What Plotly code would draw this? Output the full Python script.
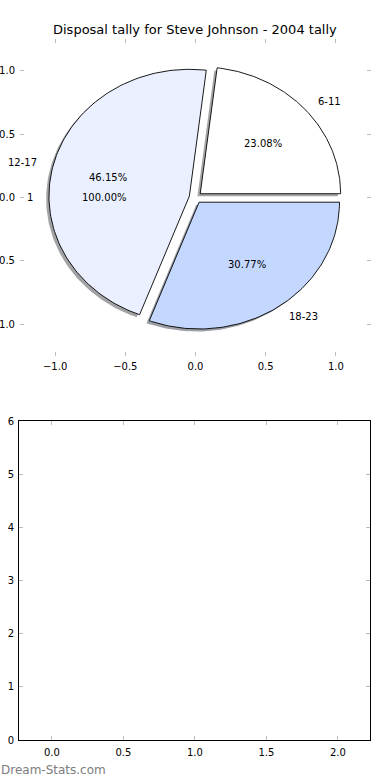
import numpy as np
import plotly.graph_objects as go

# ---- data ----
title_text = "Disposal tally for Steve Johnson - 2004 tally"
pie_labels = ["6-11", "12-17", "18-23"]
pie_values = [3, 6, 4]
pie_colors = ["#FFFFFF", "#EAF0FF", "#C4D8FF"]
single_labels = ["1"]
single_values = [1]
pie_ticks = [-1.0, -0.5, 0.0, 0.5, 1.0]
bar_xticks = [0.0, 0.5, 1.0, 1.5, 2.0]
bar_yticks = [0, 1, 2, 3, 4, 5, 6]

EXPLODE = 0.045
W, H = 390, 780
FONT = "DejaVu Sans"


def px_x(p):
    return p / W


def px_y(p):
    return (H - p) / H


fig = go.Figure()


def wedge_xy(t1, t2, cx, cy, r=1.0):
    th = np.radians(np.linspace(t1, t2, 120))
    xs = np.concatenate([[cx], cx + r * np.cos(th), [cx]])
    ys = np.concatenate([[cy], cy + r * np.sin(th), [cy]])
    return xs, ys


def rgba_shadow(hexc):
    h = hexc.lstrip("#")
    r, g, b = (int(h[i:i + 2], 16) for i in (0, 2, 4))
    return "rgba(%d,%d,%d,0.5)" % (int(r * 0.3), int(g * 0.3), int(b * 0.3))


total = float(sum(pie_values))
angles = np.concatenate([[0.0], np.cumsum(pie_values) / total * 360.0])
wedges = []
for i, lab in enumerate(pie_labels):
    t1, t2 = angles[i], angles[i + 1]
    tm = np.radians((t1 + t2) / 2)
    cx, cy = EXPLODE * np.cos(tm), EXPLODE * np.sin(tm)
    wedges.append((t1, t2, tm, cx, cy))

# shadows
for i, (t1, t2, tm, cx, cy) in enumerate(wedges):
    xs, ys = wedge_xy(t1, t2, cx - 0.02, cy - 0.02)
    fig.add_trace(go.Scatter(x=xs, y=ys, mode="lines", fill="toself",
                             fillcolor=rgba_shadow(pie_colors[i]),
                             line=dict(width=0, color="rgba(0,0,0,0)"),
                             hoverinfo="skip", showlegend=False,
                             xaxis="x", yaxis="y"))
# wedges
for i, (t1, t2, tm, cx, cy) in enumerate(wedges):
    xs, ys = wedge_xy(t1, t2, cx, cy)
    fig.add_trace(go.Scatter(x=xs, y=ys, mode="lines", fill="toself",
                             fillcolor=pie_colors[i],
                             line=dict(width=0.9, color="black"),
                             hoverinfo="skip", showlegend=False,
                             xaxis="x", yaxis="y"))

annotations = []
txt_font = dict(family=FONT, size=10, color="black")
for i, (t1, t2, tm, cx, cy) in enumerate(wedges):
    lx, ly = cx + 1.1 * np.cos(tm), cy + 1.1 * np.sin(tm)
    annotations.append(dict(x=lx, y=ly, xref="x", yref="y", text=pie_labels[i],
                            showarrow=False, font=txt_font,
                            xanchor="left" if lx > 0 else "right", yanchor="middle"))
    px, py = cx + 0.6 * np.cos(tm), cy + 0.6 * np.sin(tm)
    annotations.append(dict(x=px, y=py, xref="x", yref="y",
                            text="%.2f%%" % (pie_values[i] / total * 100),
                            showarrow=False, font=txt_font,
                            xanchor="center", yanchor="middle"))

# single-slice pie labels (slice itself hidden under the others)
s_total = float(sum(single_values))
s_ang = 0.0
for lab, v in zip(single_labels, single_values):
    frac = v / s_total
    tm = np.radians(s_ang + frac * 180.0)
    s_ang += frac * 360.0
    cx, cy = EXPLODE * np.cos(tm), EXPLODE * np.sin(tm)
    lx, ly = cx + 1.1 * np.cos(tm), cy + 1.1 * np.sin(tm)
    annotations.append(dict(x=lx, y=ly, xref="x", yref="y", text=lab,
                            showarrow=False, font=txt_font,
                            xanchor="left" if lx > 0 else "right", yanchor="middle"))
    px, py = cx + 0.6 * np.cos(tm), cy + 0.6 * np.sin(tm)
    annotations.append(dict(x=px, y=py, xref="x", yref="y",
                            text="%.2f%%" % (frac * 100), showarrow=False,
                            font=txt_font, xanchor="center", yanchor="middle"))

# empty bottom chart (invisible point to activate axes)
fig.add_trace(go.Scatter(x=[None], y=[None], mode="markers", showlegend=False,
                         xaxis="x2", yaxis="y2"))

annotations.append(dict(x=px_x(195), y=px_y(30), xref="paper", yref="paper",
                        text=title_text, showarrow=False,
                        font=dict(family=FONT, size=13, color="black"),
                        xanchor="center", yanchor="middle"))
annotations.append(dict(x=px_x(-1), y=px_y(770), xref="paper", yref="paper",
                        text="Dream-Stats.com", showarrow=False,
                        font=dict(family=FONT, size=12, color="#7d7d7d"),
                        xanchor="left", yanchor="middle"))

tick_font = dict(family=FONT, size=10, color="black")
common = dict(ticks="inside", ticklen=4, tickwidth=1, tickcolor="#BBBBBB",
              showgrid=False, zeroline=False, tickfont=tick_font,
              mirror="ticks", automargin=False)

fig.update_layout(
    width=W, height=H, margin=dict(l=0, r=0, t=0, b=0),
    paper_bgcolor="white", plot_bgcolor="white",
    showlegend=False,
    xaxis=dict(domain=[px_x(20), px_x(371)], range=[-1.25, 1.25],
               tickvals=pie_ticks, tickformat=".1f", showline=False,
               anchor="y", ticklabelstandoff=3, **common),
    yaxis=dict(domain=[px_y(356), px_y(39)], range=[-1.25, 1.25],
               tickvals=pie_ticks, tickformat=".1f", showline=False,
               anchor="x", ticklabelstandoff=4, **common),
    xaxis2=dict(domain=[px_x(19), px_x(370)], range=[-0.23, 2.225],
                tickvals=bar_xticks, tickformat=".1f", showline=True,
                linecolor="black", linewidth=1, anchor="y2",
                ticklabelstandoff=3, **common),
    yaxis2=dict(domain=[px_y(740), px_y(421)], range=[0, 6],
                tickvals=bar_yticks, showline=True,
                linecolor="black", linewidth=1, anchor="x2",
                ticklabelstandoff=2, **common),
    annotations=annotations,
)

fig.write_html("out.html", config={"displayModeBar": False},
               post_script="document.body.style.margin='0px';")
